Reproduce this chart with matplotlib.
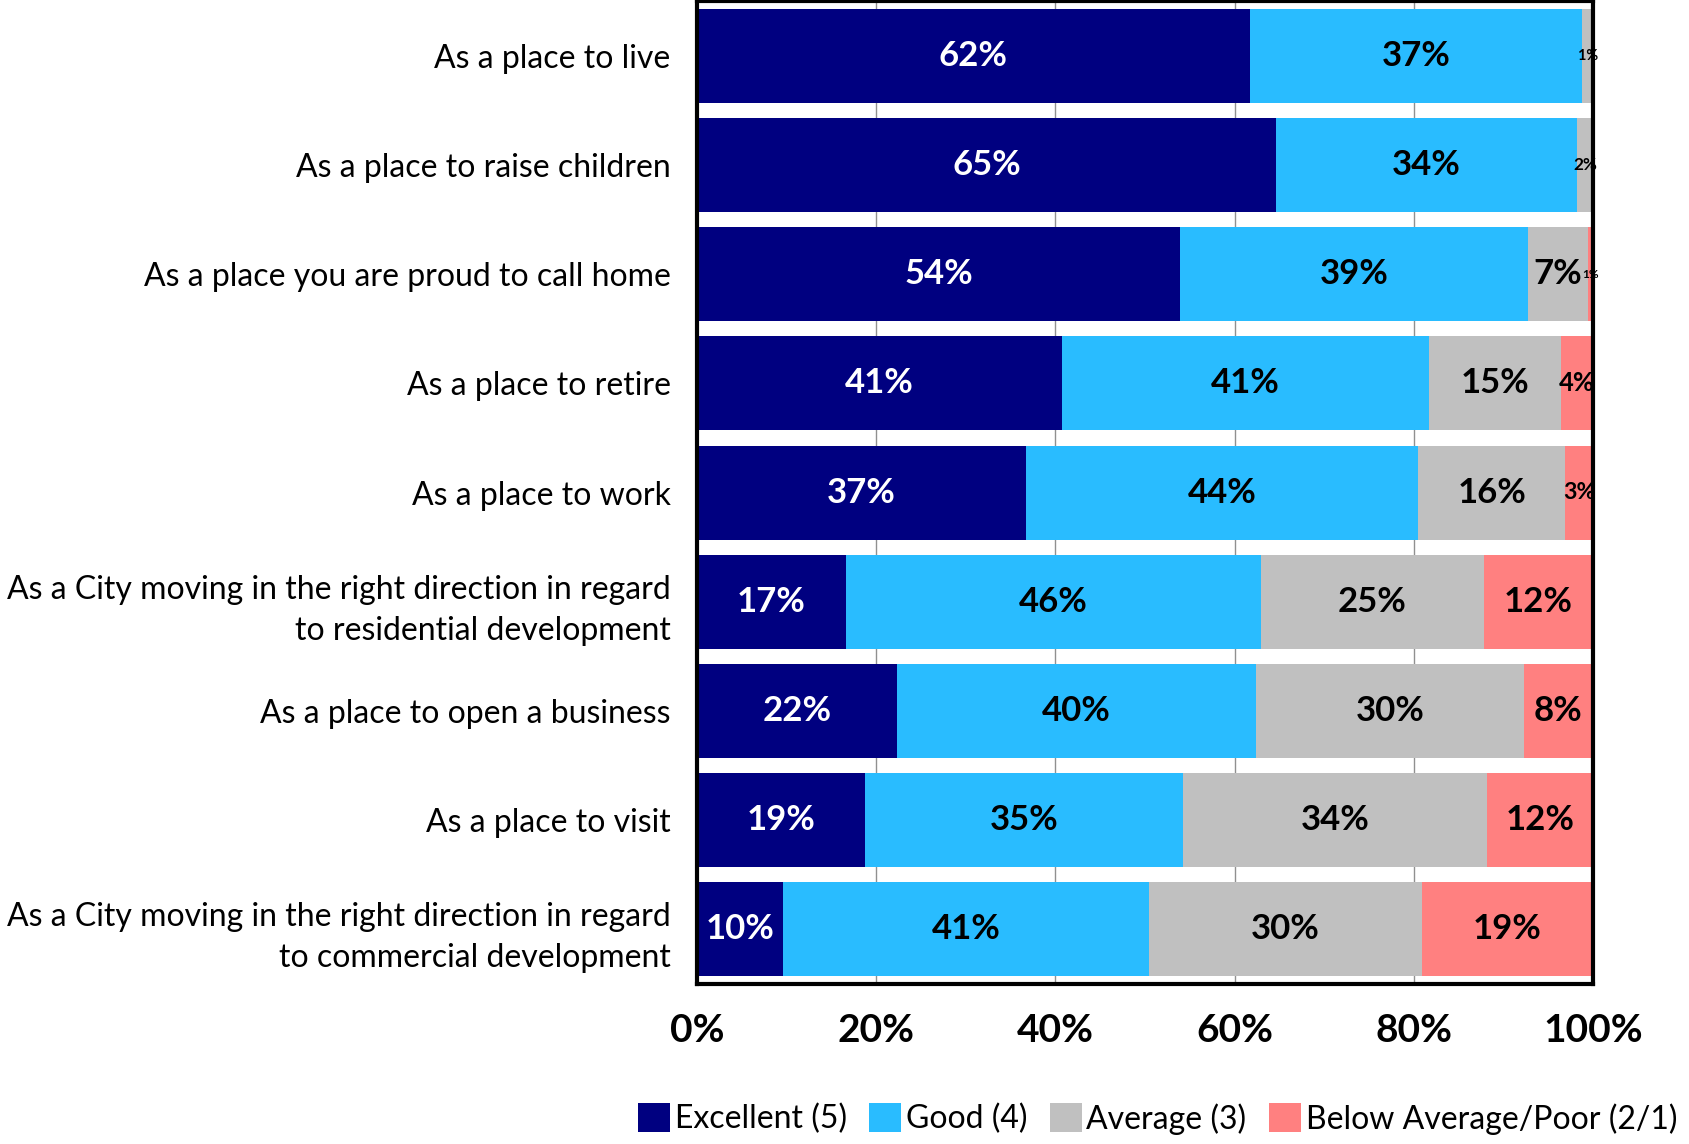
import numpy as np
import matplotlib.pyplot as plt

plt.rcParams['font.family'] = ['Lato', 'DejaVu Sans']

categories = [
    "As a place to live",
    "As a place to raise children",
    "As a place you are proud to call home",
    "As a place to retire",
    "As a place to work",
    "As a City moving in the right direction in regard\nto residential development",
    "As a place to open a business",
    "As a place to visit",
    "As a City moving in the right direction in regard\nto commercial development",
]

# percent of respondents per rating
excellent = [61.7, 64.6, 53.9, 40.7, 36.7, 16.6, 22.3, 18.8, 9.6]
good = [37.1, 33.6, 38.9, 41.0, 43.8, 46.3, 40.1, 35.4, 40.9]
average = [1.2, 1.8, 6.6, 14.7, 16.4, 24.9, 29.9, 34.0, 30.4]
below = [0.0, 0.0, 0.6, 3.6, 3.1, 12.2, 7.7, 11.8, 19.1]

series = [
    ("Excellent (5)", excellent, "#000080", "white"),
    ("Good (4)", good, "#29BCFF", "black"),
    ("Average (3)", average, "#C0C0C0", "black"),
    ("Below Average/Poor (2/1)", below, "#FF8080", "black"),
]

fig = plt.figure(figsize=(16.9, 11.44), dpi=100)
ax = fig.add_axes([0.4124, 0.1399, 0.5302, 0.8591])

y = np.arange(len(categories))
left = np.zeros(len(categories))
for name, vals, color, txtcolor in series:
    vals = np.array(vals)
    ax.barh(y, vals, left=left, height=0.86, color=color, label=name, zorder=2)
    for yi, (l, v) in enumerate(zip(left, vals)):
        if v <= 0:
            continue
        # shrink labels on very thin segments
        fs = min(25, 6.5 + 3.3 * v)
        ax.text(l + v / 2, yi, f"{v:.0f}%", ha="center", va="center",
                color=txtcolor, fontsize=fs, fontweight="bold", zorder=3,
                clip_on=False)
    left += vals

ax.set_xlim(0, 100)
ax.set_ylim(len(categories) - 0.5, -0.5)
ax.set_yticks(y)
ax.set_yticklabels(categories, fontsize=23, ha="right", linespacing=1.45)
ax.tick_params(axis="y", length=0, pad=19)
ax.set_xticks([0, 20, 40, 60, 80, 100])
ax.set_xticklabels(["0%", "20%", "40%", "60%", "80%", "100%"],
                   fontsize=28, fontweight="bold")
ax.tick_params(axis="x", length=0, pad=21)
ax.xaxis.grid(True, color="#909090", linewidth=1)
ax.set_axisbelow(True)
for s in ax.spines.values():
    s.set_linewidth(3)
    s.set_color("black")

fig.legend(loc="lower right", bbox_to_anchor=(1.0, -0.003), ncol=4,
           frameon=False, fontsize=23, handlelength=1.0, handleheight=1.0,
           handletextpad=0.15, columnspacing=0.7, borderaxespad=0.0)

fig.savefig("out.png", dpi=100)
